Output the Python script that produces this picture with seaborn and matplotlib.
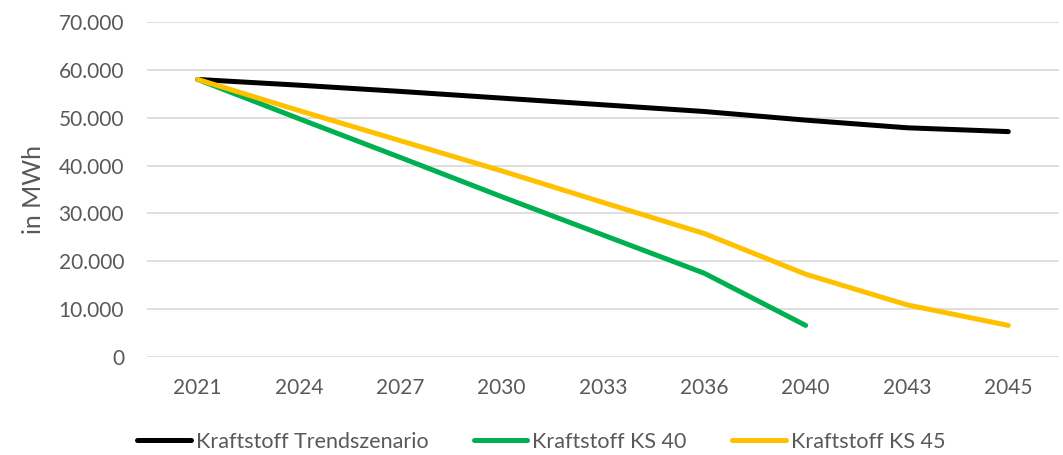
import matplotlib
matplotlib.use('Agg')
import matplotlib.pyplot as plt
import matplotlib.ticker as mticker
import seaborn as sns
import pandas as pd

# ── data ─────────────────────────────────────────────────────────────────────
years      = ['2021', '2024', '2027', '2030', '2033', '2036', '2040', '2043', '2045']
trend      = [58000, 56800, 55500, 54100, 52700, 51300, 49500, 47900, 47100]
ks40_years = ['2021', '2024', '2027', '2030', '2033', '2036', '2040']
ks40       = [58000, 49800, 41700, 33500, 25500, 17500, 6600]
ks45       = [58000, 51500, 45200, 38900, 32300, 25800, 17300, 10900, 6600]

series_names = ['Kraftstoff Trendszenario', 'Kraftstoff KS 40', 'Kraftstoff KS 45']
colors       = ['#000000', '#00b050', '#ffc000']

df = pd.concat([
    pd.DataFrame({'Jahr': years,      'Wert': trend, 'Serie': series_names[0]}),
    pd.DataFrame({'Jahr': ks40_years, 'Wert': ks40,  'Serie': series_names[1]}),
    pd.DataFrame({'Jahr': years,      'Wert': ks45,  'Serie': series_names[2]}),
], ignore_index=True)

# ── plot ─────────────────────────────────────────────────────────────────────
sns.set_style('white')
plt.rcParams['font.family'] = ['Lato', 'DejaVu Sans']
grey = '#595959'

fig = plt.figure(figsize=(10.63, 4.55), dpi=100)
ax = fig.add_axes([0.1383, 0.2154, 0.8579, 0.7362])

sns.lineplot(data=df, x='Jahr', y='Wert', hue='Serie', hue_order=series_names,
             palette=colors, linewidth=3.6, ax=ax, sort=False,
             solid_capstyle='round', legend=False)

ax.set_xlim(-0.5, len(years) - 0.5)
ax.set_ylim(0, 70000)
ax.yaxis.set_major_locator(mticker.MultipleLocator(10000))
ax.yaxis.set_major_formatter(mticker.FuncFormatter(
    lambda v, p: f'{int(v):,}'.replace(',', '.')))
ax.grid(axis='y', color='#d9d9d9', linewidth=1.2)
ax.set_axisbelow(True)
for s in ax.spines.values():
    s.set_visible(False)

ax.tick_params(axis='both', length=0, labelsize=15, colors=grey)
ax.tick_params(axis='x', pad=15)
ax.tick_params(axis='y', pad=16.5)
ax.set_xlabel('')
ax.set_ylabel('in MWh', fontsize=18, color=grey, labelpad=10)

handles = [plt.Line2D([], [], color=c, linewidth=3.6, solid_capstyle='round')
           for c in colors]
fig.legend(handles, series_names, loc='lower center', ncol=3,
           bbox_to_anchor=(0.509, -0.035), frameon=False, fontsize=15.5,
           labelcolor=grey, handlelength=2.5, handletextpad=0.23,
           columnspacing=2.1)

plt.savefig('out.png', dpi=100)
